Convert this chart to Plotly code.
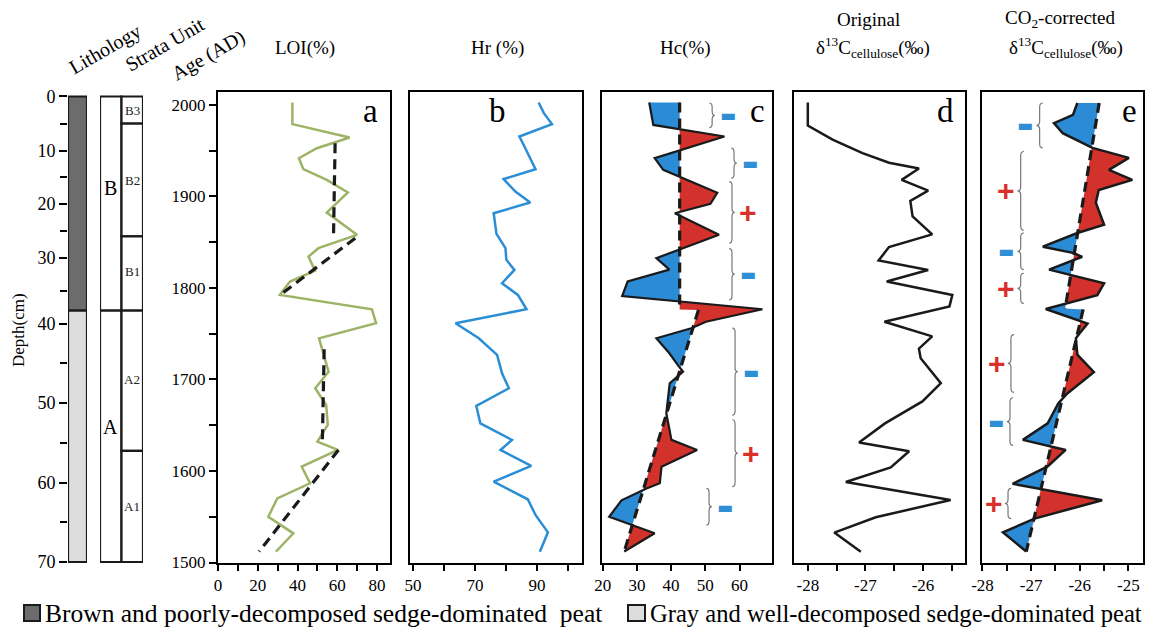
import numpy as np
import plotly.graph_objects as go

W, H = 1149, 628

# ---------------- data ----------------
depth_ticks = [0, 10, 20, 30, 40, 50, 60, 70]
depth_tick_age = [2009.1, 1949.7, 1891.8, 1832.8, 1760.7, 1674.3, 1587.0, 1500.6]  # age-depth model
depth_minor = [5, 15, 25, 35, 45, 55, 65]

lith_top = [0, 38]
lith_bottom = [38, 70]
lith_label = ["Brown and poorly-decomposed sedge-dominated  peat",
              "Gray and well-decomposed sedge-dominated peat"]
lith_color = ["#6c6c6e", "#dcdddd"]

unit_label = ["B", "A"]
unit_top = [0, 38]
unit_bottom = [38, 70]
unit_label_depth = [17, 53]

sub_label = ["B3", "B2", "B1", "A2", "A1"]
sub_top = [0, 5, 26, 38, 56]
sub_bottom = [5, 26, 38, 56, 70]

age_ticks = [1500, 1600, 1700, 1800, 1900, 2000]

loi_age = [2002.5, 1978.9, 1964.3, 1952.6, 1941.7, 1929.7, 1918.0, 1904.2, 1882.3, 1858.0,
           1843.4, 1834.2, 1818.9, 1806.9, 1792.3, 1776.7, 1761.4, 1745.0, 1708.5, 1690.4,
           1672.1, 1650.3, 1632.0, 1623.0, 1604.7, 1586.6, 1570.0, 1550.0, 1531.9, 1511.8]
loi = [37.4, 37.4, 66.2, 49.7, 40.7, 42.9, 54.7, 65.3, 54.7, 69.9,
       50.5, 45.5, 48.8, 36.2, 31.1, 77.4, 79.5, 50.8, 55.6, 48.9,
       54.4, 55.2, 50.0, 60.3, 42.1, 46.3, 29.8, 25.3, 37.9, 29.1]
loi_trend_age = [[1958.0, 1858.0], [1854.3, 1792.3], [1733.0, 1634.0], [1623.0, 1512.0]]
loi_trend = [[58.9, 58.1], [69.0, 31.2], [53.4, 52.5], [60.6, 20.7]]

hr_age = [2002.5, 1990.9, 1978.9, 1965.4, 1952.6, 1929.7, 1918.8, 1905.3, 1893.3, 1881.6,
          1859.1, 1843.4, 1830.6, 1819.7, 1805.1, 1792.3, 1776.7, 1761.4, 1745.0, 1726.8,
          1706.7, 1690.4, 1671.1, 1652.1, 1633.9, 1623.0, 1605.5, 1588.4, 1569.1, 1552.0,
          1533.0, 1511.8]
hr = [90.5, 92.2, 94.8, 84.3, 86.2, 89.5, 79.2, 83.0, 87.8, 76.0,
      76.9, 79.8, 80.1, 82.7, 78.7, 83.8, 86.6, 63.7, 71.2, 77.1,
      78.7, 80.9, 70.4, 71.7, 81.9, 78.2, 88.1, 76.0, 87.0, 89.5,
      93.5, 90.9]

hc_age = [2002.5, 1978.0, 1965.4, 1941.7, 1929.0, 1904.0, 1891.8, 1881.6, 1858.0, 1832.5,
          1820.0, 1807.0, 1791.0, 1776.7, 1763.0, 1756.0, 1745.0, 1728.6, 1714.0, 1708.5,
          1695.8, 1663.0, 1634.0, 1623.0, 1604.7, 1586.6, 1581.0, 1568.0, 1550.0, 1541.0,
          1532.0, 1512.0]
hc = [33.6, 34.8, 55.6, 35.2, 37.7, 53.5, 51.5, 41.1, 54.0, 35.7,
      39.5, 27.3, 25.7, 66.7, 50.2, 45.9, 35.7, 39.5, 42.3, 43.5,
      39.6, 38.6, 40.1, 47.6, 37.2, 36.7, 32.8, 25.5, 21.9, 28.6,
      35.2, 26.3]
hc_trend_age = [[2002.5, 1776.5], [1776.0, 1512.0]]
hc_trend = [[42.5, 42.5], [48.0, 26.3]]

d13_age = [2002.5, 1977.4, 1962.0, 1947.2, 1936.7, 1930.5, 1918.0, 1906.2, 1895.0, 1878.2,
           1858.5, 1844.7, 1830.0, 1819.6, 1807.0, 1792.3, 1779.8, 1763.0, 1747.1, 1733.6,
           1723.2, 1696.0, 1676.0, 1658.4, 1652.0, 1631.1, 1621.5, 1604.0, 1588.0, 1568.3,
           1549.5, 1532.7, 1511.8]
d13 = [-28.0, -28.0, -27.57, -27.05, -26.59, -26.07, -26.37, -25.91, -26.22, -26.18,
       -25.84, -26.59, -26.77, -25.91, -26.63, -25.49, -25.54, -26.67, -25.84, -26.07,
       -26.04, -25.69, -26.01, -26.50, -26.66, -27.11, -26.24, -26.56, -27.34, -25.52,
       -26.82, -27.54, -27.08]

cor_age = [2002, 1989, 1980, 1969, 1953, 1942, 1929, 1918, 1907, 1893,
           1869, 1860, 1845, 1838, 1834, 1820, 1805, 1792, 1777, 1761,
           1750, 1745, 1727, 1708, 1685, 1674, 1652, 1634, 1623, 1605,
           1586, 1568, 1548, 1533, 1512]
cor = [-26.05, -26.14, -26.53, -26.35, -25.74, -24.99, -25.40, -24.92, -25.61, -25.67,
       -25.50, -26.05, -26.76, -26.12, -25.95, -26.63, -25.50, -25.64, -26.70, -25.84,
       -26.01, -26.08, -26.05, -25.71, -26.25, -26.44, -26.66, -27.17, -26.29, -26.66,
       -27.38, -25.54, -26.93, -27.58, -27.10]
cor_trend_age = [[2002.0, 1777.5], [1776.5, 1512.0]]
cor_trend = [[-25.60, -26.30], [-25.93, -27.10]]

# brackets (age ranges) with sign of anomaly
hc_br_top = [2002, 1952.6, 1916, 1843, 1756, 1656, 1581]
hc_br_bot = [1975, 1920, 1849, 1787, 1661, 1583, 1541]
hc_br_x = [51.2, 57.6, 57.0, 57.0, 57.9, 57.9, 50.3]
hc_br_sign = ["-", "-", "+", "-", "-", "+", "-"]

cor_br_top = [2002, 1949, 1860, 1816, 1749, 1680, 1581]
cor_br_bot = [1953, 1863, 1820, 1783, 1686, 1628, 1548]
cor_br_x = [-26.76, -27.15, -27.15, -27.15, -27.35, -27.37, -27.41]
cor_br_sign = ["-", "+", "-", "+", "+", "-", "+"]

# ---------------- style ----------------
FONT = "Liberation Serif, Times New Roman, serif"
RED = "#d3322c"
BLUE = "#2b8bd4"
GREEN = "#9db365"
HRBLUE = "#2a8ed6"
SIGN_RED = "#d9302c"
SIGN_BLUE = "#2f8fd6"


def px(X):
    return X / W


def py(Y):
    return 1 - Y / H


def age_of_depth(d):
    return float(np.interp(d, depth_ticks, depth_tick_age))


YR = [1499.5, 2014.0]
YDOM = [py(563), py(92)]
panels = {1: (218, 390), 2: (410, 582), 3: (602, 772), 4: (794, 965), 5: (982, 1143)}


def split_fill(ages, vals, t_age_segs, t_val_segs):
    a = np.asarray(ages, float)
    v = np.asarray(vals, float)
    ta = np.concatenate([np.asarray(s, float) for s in t_age_segs])
    tv = np.concatenate([np.asarray(s, float) for s in t_val_segs])
    ia = np.argsort(a)
    it = np.argsort(ta)
    grid = np.unique(np.concatenate([a, ta[(ta >= a.min()) & (ta <= a.max())]]))
    gv = np.interp(grid, a[ia], v[ia])
    gt = np.interp(grid, ta[it], tv[it])
    ys, cv, ct = [grid[0]], [gv[0]], [gt[0]]
    for i in range(1, len(grid)):
        d0 = gv[i - 1] - gt[i - 1]
        d1 = gv[i] - gt[i]
        if d0 * d1 < 0:
            f = d0 / (d0 - d1)
            yc = grid[i - 1] + f * (grid[i] - grid[i - 1])
            xc = gt[i - 1] + f * (gt[i] - gt[i - 1])
            ys.append(yc); cv.append(xc); ct.append(xc)
        ys.append(grid[i]); cv.append(gv[i]); ct.append(gt[i])
    ys = np.array(ys); cv = np.array(cv); ct = np.array(ct)
    return ys, ct, np.maximum(cv, ct), np.minimum(cv, ct)


fig = go.Figure()
NOLINE = dict(color="rgba(0,0,0,0)", width=0)


def add_line(x, y, n, color, width=2.5, dash=None):
    fig.add_trace(go.Scatter(x=x, y=y, mode="lines", xaxis=f"x{n}", yaxis=f"y{n}",
                             line=dict(color=color, width=width, dash=dash),
                             showlegend=False, hoverinfo="skip"))


def add_dashed(segs_age, segs_val, n):
    xs, ys = [], []
    for sa, sv in zip(segs_age, segs_val):
        xs += list(sv) + [None]
        ys += list(sa) + [None]
    add_line(xs, ys, n, "#1a1a1a", width=3.2, dash="10px,6px")


def add_fill(ages, vals, tsa, tsv, n):
    ys, ct, pos, neg = split_fill(ages, vals, tsa, tsv)
    for arr, col in ((pos, RED), (neg, BLUE)):
        fig.add_trace(go.Scatter(x=ct, y=ys, mode="lines", line=NOLINE, xaxis=f"x{n}", yaxis=f"y{n}",
                                 showlegend=False, hoverinfo="skip"))
        fig.add_trace(go.Scatter(x=arr, y=ys, mode="lines", line=NOLINE, fill="tonextx", fillcolor=col,
                                 xaxis=f"x{n}", yaxis=f"y{n}", showlegend=False, hoverinfo="skip"))


# panel a
add_line(loi, loi_age, 1, GREEN)
add_dashed(loi_trend_age, loi_trend, 1)
# panel b
add_line(hr, hr_age, 2, HRBLUE)
# panel c
add_fill(hc_age, hc, hc_trend_age, hc_trend, 3)
add_line(hc, hc_age, 3, "#1a1a1a", width=2.2)
add_dashed(hc_trend_age, hc_trend, 3)
# panel d
add_line(d13, d13_age, 4, "#1a1a1a", width=2.5)
# panel e
add_fill(cor_age, cor, cor_trend_age, cor_trend, 5)
add_line(cor, cor_age, 5, "#1a1a1a", width=2.5)
add_dashed(cor_trend_age, cor_trend, 5)
# placeholder traces for column axes
fig.add_trace(go.Scatter(x=[], y=[], xaxis="x6", yaxis="y6", showlegend=False))
fig.add_trace(go.Scatter(x=[], y=[], xaxis="x7", yaxis="y6", showlegend=False))

tickfont = dict(family=FONT, size=17, color="black")
xcommon = dict(showline=True, linewidth=2, linecolor="black", mirror=True, ticks="outside",
               ticklen=6, tickwidth=2, tickcolor="black", showgrid=False, zeroline=False,
               tickfont=tickfont, fixedrange=True, automargin=False)
minor_common = dict(ticks="outside", ticklen=6, tickwidth=2, tickcolor="black", showgrid=False)

xspecs = {
    1: dict(range=[0, 86.5], tickvals=[0, 20, 40, 60, 80], minor=dict(dtick=10, tick0=0, **minor_common)),
    2: dict(range=[49, 104.5], tickvals=[50, 70, 90], minor=dict(dtick=10, tick0=50, **minor_common)),
    3: dict(range=[19.8, 69.5], tickvals=[20, 30, 40, 50, 60]),
    4: dict(range=[-28.24, -25.27], tickvals=[-28, -27, -26], ticktext=["-28", "-27", "-26"],
            minor=dict(dtick=0.5, tick0=-28, **minor_common)),
    5: dict(range=[-28.01, -24.7], tickvals=[-28, -27, -26, -25], ticktext=["-28", "-27", "-26", "-25"],
            minor=dict(dtick=0.5, tick0=-28, **minor_common)),
}

layout = dict(width=W, height=H, margin=dict(l=0, r=0, t=0, b=0, pad=0, autoexpand=False), autosize=False,
              paper_bgcolor="white", plot_bgcolor="rgba(0,0,0,0)", showlegend=False,
              font=dict(family=FONT, color="black"))

for n, (x0, x1) in panels.items():
    xa = dict(xcommon, domain=[px(x0), px(x1)], anchor=f"y{n}", **xspecs[n])
    xa["tickmode"] = "array"
    ya = dict(domain=YDOM, range=YR, anchor=f"x{n}", showline=True, linewidth=2, linecolor="black",
              mirror=True, showgrid=False, zeroline=False, fixedrange=True, automargin=False)
    if n == 1:
        ya.update(tickvals=age_ticks, ticks="outside", ticklen=7, tickwidth=2, tickcolor="black",
                  tickfont=tickfont, minor=dict(dtick=50, tick0=1500, ticks="outside", ticklen=7,
                                                tickwidth=2, tickcolor="black", showgrid=False))
    else:
        ya.update(showticklabels=False, ticks="")
    layout["xaxis" if n == 1 else f"xaxis{n}"] = xa
    layout["yaxis" if n == 1 else f"yaxis{n}"] = ya

layout["xaxis6"] = dict(domain=[px(68), px(87)], range=[0, 1], visible=False, anchor="y6", fixedrange=True)
layout["xaxis7"] = dict(domain=[px(100), px(143)], range=[0, 2], visible=False, anchor="y6", fixedrange=True)
layout["yaxis6"] = dict(domain=YDOM, range=YR, anchor="x6", side="left", showline=False, showgrid=False,
                        zeroline=False, tickmode="array", tickvals=depth_tick_age, automargin=False,
                        ticktext=[str(d) for d in depth_ticks], ticks="outside", ticklen=8, tickwidth=2,
                        tickcolor="black", tickfont=dict(family=FONT, size=18, color="black"),
                        minor=dict(tickmode="array", tickvals=[age_of_depth(d) for d in depth_minor],
                                   ticks="outside", ticklen=7, tickwidth=2, tickcolor="black",
                                   showgrid=False), fixedrange=True)

fig.update_layout(**layout)

shapes = []
annotations = []


def ann(**kw):
    kw.setdefault("showarrow", False)
    kw.setdefault("xanchor", "center")
    kw.setdefault("yanchor", "middle")
    annotations.append(kw)


# lithology column
for t, b, c in zip(lith_top, lith_bottom, lith_color):
    shapes.append(dict(type="rect", xref="x6", yref="y6", x0=0, x1=1, y0=age_of_depth(t), y1=age_of_depth(b),
                       fillcolor=c, line=dict(color="#1a1a1a", width=2.2), layer="above"))
# strata
for lab, t, b, dl in zip(unit_label, unit_top, unit_bottom, unit_label_depth):
    shapes.append(dict(type="rect", xref="x7", yref="y6", x0=0, x1=1, y0=age_of_depth(t), y1=age_of_depth(b),
                       fillcolor="white", line=dict(color="#1a1a1a", width=2.2), layer="above"))
    ann(xref="x7", yref="y6", x=0.5, y=age_of_depth(dl), text=lab,
        font=dict(family=FONT, size=20, color="black"))
for lab, t, b in zip(sub_label, sub_top, sub_bottom):
    shapes.append(dict(type="rect", xref="x7", yref="y6", x0=1, x1=2, y0=age_of_depth(t), y1=age_of_depth(b),
                       fillcolor="white", line=dict(color="#1a1a1a", width=2.2), layer="above"))
    ann(xref="x7", yref="y6", x=1.5, y=age_of_depth((t + b) / 2), text=lab,
        font=dict(family=FONT, size=13, color="#222"))


def brace_path(xe, xt, ytop, ybot, r):
    xm = (xe + xt) / 2
    ym = (ytop + ybot) / 2
    return (f"M {xe},{ytop} Q {xm},{ytop} {xm},{ytop - r} L {xm},{ym + r} Q {xm},{ym} {xt},{ym} "
            f"Q {xm},{ym} {xm},{ym - r} L {xm},{ybot + r} Q {xm},{ybot} {xe},{ybot}")


def sign_annot(x, y, s, n):
    if s == "+":
        ann(xref=f"x{n}", yref=f"y{n}", x=x, y=y, text="<b>+</b>",
            font=dict(family="Liberation Sans, Arial, sans-serif", size=30, color=SIGN_RED))
    else:
        ann(xref=f"x{n}", yref=f"y{n}", x=x, y=y, text="▬",
            font=dict(family="DejaVu Sans", size=17, color=SIGN_BLUE))


for t, b, x, s in zip(hc_br_top, hc_br_bot, hc_br_x, hc_br_sign):
    shapes.append(dict(type="path", xref="x3", yref="y3", path=brace_path(x, x + 1.6, t, b, 4.5),
                       line=dict(color="#777", width=1.2)))
    sign_annot(x + 5.4, (t + b) / 2, s, 3)
for t, b, x, s in zip(cor_br_top, cor_br_bot, cor_br_x, cor_br_sign):
    shapes.append(dict(type="path", xref="x5", yref="y5", path=brace_path(x, x - 0.13, t, b, 4.5),
                       line=dict(color="#777", width=1.2)))
    sign_annot(x - 0.36, (t + b) / 2, s, 5)

# panel letters
for X, L in zip([370, 497, 757, 945, 1129], ["a", "b", "c", "d", "e"]):
    ann(xref="paper", yref="paper", x=px(X), y=py(111), text=L,
        font=dict(family=FONT, size=33, color="black"))

# titles
TF = dict(family=FONT, size=19, color="black")
ann(xref="paper", yref="paper", x=px(305), y=py(48), text="LOI(%)", font=TF)
ann(xref="paper", yref="paper", x=px(497), y=py(48), text="Hr (%)", font=TF)
ann(xref="paper", yref="paper", x=px(685), y=py(48), text="Hc(%)", font=TF)
ann(xref="paper", yref="paper", x=px(868), y=py(19), text="Original", font=TF)
ann(xref="paper", yref="paper", x=px(873), y=py(48), text="δ<sup>13</sup>C<sub>cellulose</sub>(‰)", font=TF)
ann(xref="paper", yref="paper", x=px(1060), y=py(19), text="CO<sub>2</sub>-corrected", font=TF)
ann(xref="paper", yref="paper", x=px(1066), y=py(48), text="δ<sup>13</sup>C<sub>cellulose</sub>(‰)", font=TF)
ann(xref="paper", yref="paper", x=px(105), y=py(50), text="Lithology", textangle=-30,
    font=dict(family=FONT, size=20, color="black"))
ann(xref="paper", yref="paper", x=px(165), y=py(44), text="Strata Unit", textangle=-30,
    font=dict(family=FONT, size=20, color="black"))
ann(xref="paper", yref="paper", x=px(208), y=py(55), text="Age (AD)", textangle=-30,
    font=dict(family=FONT, size=20, color="black"))
ann(xref="paper", yref="paper", x=px(18), y=py(330), text="Depth(cm)", textangle=-90,
    font=dict(family=FONT, size=17, color="black"))

# legend
for (X0, X1, TX), lab, col, fs in zip([(24, 40, 43), (628, 645, 648)], lith_label, lith_color, [25.5, 24.6]):
    shapes.append(dict(type="rect", xref="paper", yref="paper", x0=px(X0), x1=px(X1), y0=py(621), y1=py(605),
                       fillcolor=col, line=dict(color="#1a1a1a", width=2)))
    ann(xref="paper", yref="paper", x=px(TX), y=py(613), xanchor="left", text=lab,
        font=dict(family=FONT, size=fs, color="black"))

fig.update_layout(shapes=shapes, annotations=annotations)
fig.write_html("out.html", config={"displayModeBar": False},
               post_script="document.body.style.margin='0px';document.body.style.padding='0px';")
